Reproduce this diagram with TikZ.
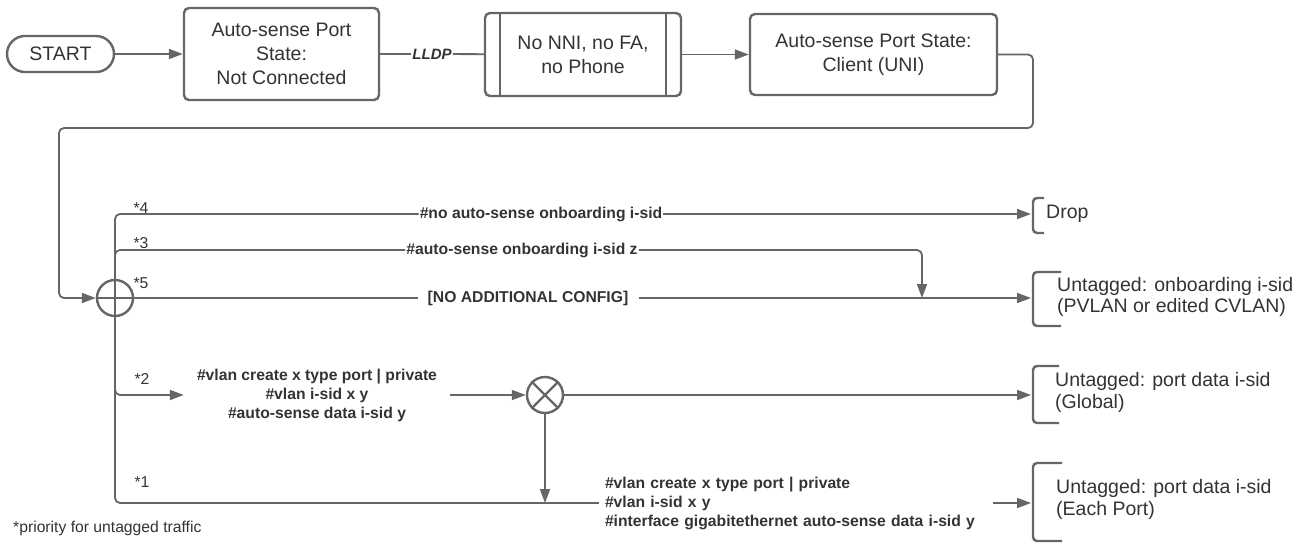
\documentclass[tikz,border=0pt]{standalone}
\usepackage{fontspec}
\setmainfont{Liberation Sans}
\usetikzlibrary{arrows.meta}
\definecolor{ln}{HTML}{666666}
\definecolor{tx}{HTML}{333333}
\begin{document}
\begin{tikzpicture}[x=1pt,y=-1pt,
 box/.style={draw=ln,line width=2.4pt,rounded corners=5pt,text=tx,align=center,inner sep=0pt,font=\fontsize{19.5}{24}\selectfont},
 conn/.style={draw=ln,line width=1.8pt,rounded corners=5pt},
 arr/.style={conn,-{Triangle[length=14pt,width=10pt]}},
 cmd/.style={text=tx,font=\fontsize{15.7}{19}\selectfont\bfseries,inner ysep=0pt},
 star/.style={text=tx,font=\fontsize{15.7}{19}\selectfont,inner sep=0pt},
 res/.style={text=tx,font=\fontsize{19.5}{21.5}\selectfont,align=left,anchor=west,inner sep=0pt},
 brk/.style={draw=ln,line width=2.4pt,rounded corners=4pt},
 junction/.style={circle,draw=ln,line width=2.4pt,minimum size=36pt,inner sep=0pt}
]
\useasboundingbox (0,0) rectangle (1307,544);

% top row
\node[box,rounded corners=18pt,minimum width=107pt,minimum height=36pt] (start) at (60.5,54) {START};
\node[box,minimum width=195pt,minimum height=92pt] (b1) at (281.5,54) {Auto-sense Port\\State:\\Not Connected};
\node[box,minimum width=196pt,minimum height=83pt] (b2) at (583,54.5) {No NNI, no FA,\\no Phone};
\draw[ln,line width=2.4pt] ([xshift=16pt]b2.north west) -- ([xshift=16pt]b2.south west);
\draw[ln,line width=2.4pt] ([xshift=-16pt]b2.north east) -- ([xshift=-16pt]b2.south east);
\node[box,minimum width=247pt,minimum height=81pt] (b3) at (873.5,54.5) {Auto-sense Port State:\\Client (UNI)};
\node[cmd,font=\fontsize{15}{18}\selectfont\bfseries\itshape,inner xsep=1pt] (lldp) at (432,54) {LLDP};

\draw[arr] (start) -- (b1);
\draw[conn] (b1) -- (lldp);
\draw[conn] (lldp) -- (b2);
\draw[arr] (b2) -- (b3);

% junctions
\node[junction] (pl) at (115,298) {};
\draw[ln,line width=2.4pt] (pl.north)--(pl.south) (pl.west)--(pl.east);
\node[junction] (mx) at (545,395) {};
\draw[ln,line width=2.4pt] (mx.north west)--(mx.south east) (mx.north east)--(mx.south west);

% return line
\coordinate (r1) at (1033,128);
\coordinate (r2) at (59,128);
\draw[arr] (b3.east) -| (r1) -- (r2) |- (pl.west);

% labels on branches
\node[cmd,inner xsep=1pt] (l4) at (541,214) {\#no auto-sense onboarding i-sid};
\node[cmd,inner xsep=1pt] (l3) at (522,250) {\#auto-sense onboarding i-sid z};
\node[cmd,inner xsep=10pt] (l5) at (528,298) {[NO ADDITIONAL CONFIG]};
\node[cmd,align=center,inner xsep=13pt] (l2) at (317,395) {\#vlan create x type port | private\\\#vlan i-sid x y\\\#auto-sense data i-sid y};
\node[cmd,align=left,text width=382pt,inner xsep=6pt] (l1) at (796,503) {\#vlan create x type port | private\\\#vlan i-sid x y\\\#interface gigabitethernet auto-sense data i-sid y};

% star labels
\node[star] (s4) at (141,208) {*4};
\node[star] (s3) at (141,243) {*3};
\node[star] (s5) at (141,283) {*5};
\node[star] (s2) at (142,379) {*2};
\node[star] (s1) at (142,482) {*1};
\node[star,anchor=west] (fn) at (13,528) {*priority for untagged traffic};

% results
\coordinate (dIn) at (1031,214);
\coordinate (oIn) at (1031,298);
\coordinate (gIn) at (1031,395);
\coordinate (eIn) at (1031,503);
\coordinate (j3) at (922,298);
\draw[brk] (1044,198) -- (1033,198) -- (1033,233) -- (1044,233);
\draw[brk] (1061,272) -- (1033,272) -- (1033,326) -- (1061,326);
\draw[brk] (1059,366) -- (1033,366) -- (1033,423) -- (1059,423);
\draw[brk] (1062,463) -- (1033,463) -- (1033,541) -- (1062,541);
\node[res] (drop) at (1046,214) {Drop};
\node[res] (onb) at (1057,297) {Untagged: onboarding i-sid\\(PVLAN or edited CVLAN)};
\node[res] (glob) at (1055,392.5) {Untagged: port data i-sid\\(Global)};
\node[res] (each) at (1056,499.5) {Untagged: port data i-sid\\(Each Port)};

% branches
\draw[conn] (pl.north) |- (l4.west);
\draw[arr] (l4.east) -- (dIn);
\draw[conn] (pl.north) |- (l3.west);
\draw[arr] (l3.east) -| (j3);
\draw[conn] (pl.east) -- (l5.west);
\draw[arr] (l5.east) -- (oIn);
\draw[arr] (pl.south) |- (l2.west);
\draw[arr] (l2.east) -- (mx.west);
\draw[arr] (mx.east) -- (gIn);
\draw[conn] (pl.south) |- (l1.west);
\draw[arr] (l1.east) -- (eIn);
\draw[arr] (mx.south) -- (mx.south |- l1.west);
\end{tikzpicture}
\end{document}
